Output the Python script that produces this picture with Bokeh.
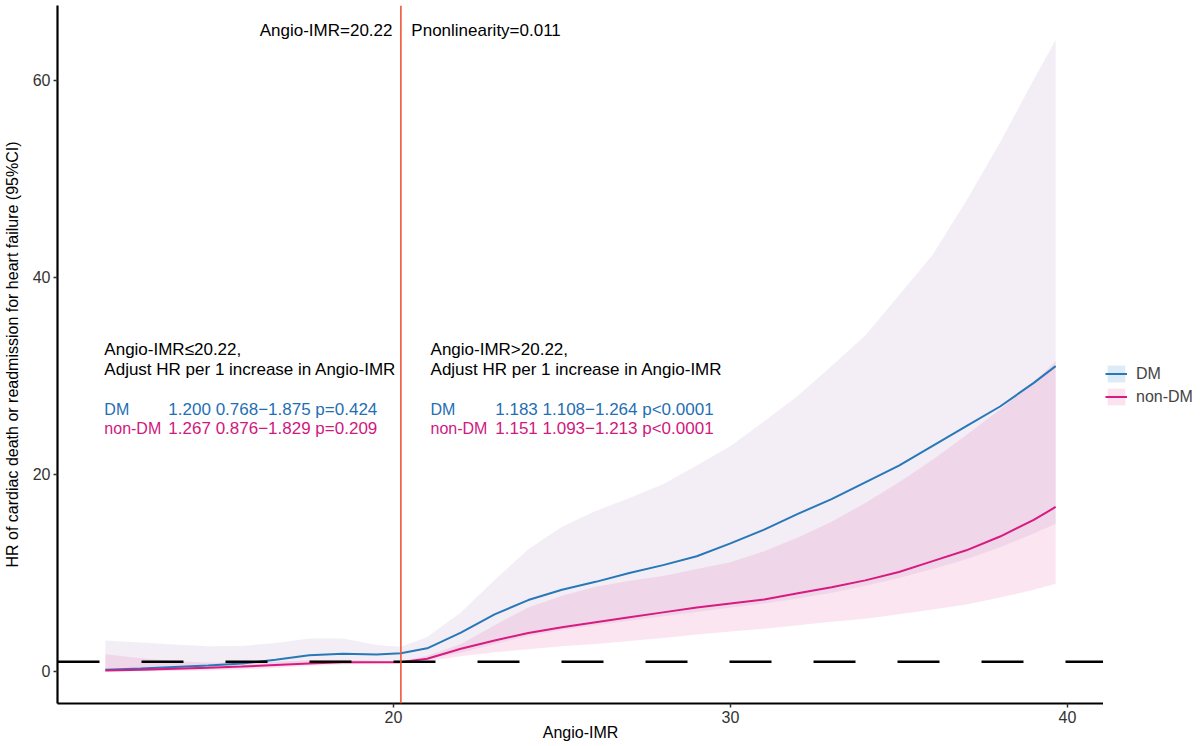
from bokeh.plotting import figure
from bokeh.layouts import row
from bokeh.models import (ColumnDataSource, Span, Label, Legend, LegendItem,
                          Range1d, FixedTicker)
from bokeh.embed import file_html
from bokeh.resources import INLINE

# ---------------- data ----------------
angio_imr = [11.45, 12.5, 13.5, 14.5, 15.5, 16.5, 17.5, 18.5, 19.5, 20.22, 21, 22, 23, 24, 25,
             26, 27, 28, 29, 30, 31, 32, 33, 34, 35, 36, 37, 38, 39, 39.65]
dm_hr = [0.17, 0.3, 0.45, 0.6, 0.8, 1.2, 1.65, 1.8, 1.72, 1.85, 2.35, 3.95, 5.8, 7.25, 8.3,
         9.1, 10.0, 10.8, 11.7, 13.0, 14.4, 16.0, 17.5, 19.2, 20.9, 22.9, 24.9, 26.9, 29.3, 31.0]
dm_lower = [0.0, 0.05, 0.12, 0.22, 0.35, 0.55, 0.8, 0.95, 1.0, 1.1, 1.25, 1.9, 2.8, 3.6, 4.2,
            4.7, 5.15, 5.6, 6.05, 6.5, 6.9, 7.4, 8.0, 8.7, 9.5, 10.4, 11.4, 12.6, 14.0, 15.0]
dm_upper = [3.15, 2.95, 2.75, 2.55, 2.6, 2.9, 3.35, 3.35, 2.7, 2.5, 3.5, 6.0, 9.3, 12.4, 14.7,
            16.3, 17.6, 19.0, 20.9, 22.9, 25.4, 28.0, 31.0, 34.1, 38.2, 42.3, 47.8, 53.7, 60.1, 64.1]
nondm_hr = [0.1, 0.18, 0.27, 0.38, 0.5, 0.66, 0.82, 0.95, 0.95, 0.95, 1.3, 2.3, 3.15, 3.9, 4.5,
            5.0, 5.5, 6.0, 6.5, 6.9, 7.3, 7.95, 8.55, 9.25, 10.1, 11.2, 12.3, 13.7, 15.4, 16.7]
nondm_lower = [0.0, 0.02, 0.05, 0.1, 0.2, 0.35, 0.55, 0.7, 0.8, 0.85, 1.05, 1.55, 1.95, 2.25, 2.55,
               2.8, 3.1, 3.4, 3.75, 4.05, 4.35, 4.7, 5.05, 5.35, 5.8, 6.3, 6.8, 7.5, 8.3, 8.9]
nondm_upper = [1.75, 1.35, 1.05, 0.9, 0.9, 1.0, 1.15, 1.2, 1.1, 1.05, 1.6, 2.8, 4.7, 6.5, 7.7,
               8.6, 9.2, 9.7, 10.4, 11.1, 12.2, 13.6, 15.2, 17.1, 19.2, 21.5, 24.0, 26.6, 29.4, 31.5]

cutoff = 20.22
reference_hr = 1
x_ticks = [20, 30, 40]
y_ticks = [0, 20, 40, 60]
series_labels = ["DM", "non-DM"]
header_left = "Angio-IMR=20.22"
header_right = "Pnonlinearity=0.011"
block_left = ["Angio-IMR\u226420.22,", "Adjust HR per 1 increase in Angio-IMR"]
block_right = ["Angio-IMR>20.22,", "Adjust HR per 1 increase in Angio-IMR"]
stats_left = ["1.200 0.768\u22121.875 p=0.424", "1.267 0.876\u22121.829 p=0.209"]
stats_right = ["1.183 1.108\u22121.264 p<0.0001", "1.151 1.093\u22121.213 p<0.0001"]

# ---------------- style ----------------
FONT = "Liberation Sans"
DM_LINE = "#2878B8"
NON_LINE = "#D81B80"
DM_TEXT = "#1F6FB4"
NON_TEXT = "#D0187E"
FIG_H = 738

dm_src = ColumnDataSource(dict(x=angio_imr, y=dm_hr, lo=dm_lower, hi=dm_upper))
non_src = ColumnDataSource(dict(x=angio_imr, y=nondm_hr, lo=nondm_lower, hi=nondm_upper))

p = figure(frame_width=1046, frame_height=698, output_backend="svg", toolbar_location=None,
           x_range=Range1d(10.03, 41.07), y_range=Range1d(-3.25, 67.61),
           min_border_left=49, min_border_right=0, min_border_top=5, min_border_bottom=35)
p.outline_line_color = None
p.grid.visible = False
p.background_fill_color = "white"

# confidence bands
p.varea(x="x", y1="lo", y2="hi", source=dm_src, fill_color="#AF8EC3", fill_alpha=0.15)
p.varea(x="x", y1="lo", y2="hi", source=non_src, fill_color="#E452A2", fill_alpha=0.15)

# fitted HR lines
p.line("x", "y", source=dm_src, line_color=DM_LINE, line_width=2)
p.line("x", "y", source=non_src, line_color=NON_LINE, line_width=2)

# reference lines
p.add_layout(Span(location=reference_hr, dimension="width", line_color="black",
                  line_width=2.5, line_dash="42 42"))
p.add_layout(Span(location=cutoff, dimension="height", line_color="#F0553A", line_width=1.6))

# axes
for ax in (p.xaxis[0], p.yaxis[0]):
    ax.axis_line_width = 2.2
    ax.axis_line_color = "black"
    ax.major_tick_line_width = 1.5
    ax.major_tick_line_color = "#333333"
    ax.major_tick_out = 4
    ax.major_tick_in = 0
    ax.minor_tick_line_color = None
    ax.major_label_text_font = FONT
    ax.major_label_text_font_size = "16px"
    ax.major_label_text_color = "#333333"
    ax.axis_label_text_font = FONT
    ax.axis_label_text_font_size = "16px"
    ax.axis_label_text_font_style = "normal"
    ax.axis_label_text_color = "black"
p.xaxis.ticker = FixedTicker(ticks=x_ticks)
p.yaxis.ticker = FixedTicker(ticks=y_ticks)
p.xaxis.axis_label = "Angio-IMR"
p.yaxis.axis_label = "HR of cardiac death or readmission for heart failure (95%CI)"
p.xaxis.major_label_standoff = 3
p.xaxis.axis_label_standoff = -2
p.yaxis.major_label_standoff = 3
p.yaxis.axis_label_standoff = 9

# annotations
def lab(x, y, text, color="black", align="left", size="17px"):
    p.add_layout(Label(x=x, y=y, text=text, text_font=FONT, text_font_size=size,
                       text_color=color, text_align=align, text_baseline="middle"))

lab(cutoff - 0.25, 65.1, header_left, align="right")
lab(cutoff + 0.31, 65.1, header_right)

row_y = [32.7, 30.66, 26.6, 24.67]
lab(11.42, row_y[0], block_left[0])
lab(11.42, row_y[1], block_left[1])
lab(11.42, row_y[2], series_labels[0], DM_TEXT, size="16px")
lab(11.42, row_y[3], series_labels[1], NON_TEXT, size="16px")
lab(13.32, row_y[2], stats_left[0], DM_TEXT)
lab(13.32, row_y[3], stats_left[1], NON_TEXT)

lab(21.10, row_y[0], block_right[0])
lab(21.10, row_y[1], block_right[1])
lab(21.10, row_y[2], series_labels[0], DM_TEXT, size="16px")
lab(21.10, row_y[3], series_labels[1], NON_TEXT, size="16px")
lab(23.02, row_y[2], stats_right[0], DM_TEXT)
lab(23.02, row_y[3], stats_right[1], NON_TEXT)

# ---------------- legend panel ----------------
# the key renderers reuse the series data; the panel's ranges lie outside the data,
# so only the legend keys are visible there
lg = figure(width=89, height=FIG_H, output_backend="svg", toolbar_location=None,
            x_axis_type=None, y_axis_type=None,
            x_range=Range1d(1000, 1001), y_range=Range1d(1000, 1001), min_border=0)
lg.outline_line_color = None
lg.grid.visible = False

dm_key = lg.varea(x="x", y1="lo", y2="hi", source=dm_src, fill_color="#DCEBF6")
non_key = lg.varea(x="x", y1="lo", y2="hi", source=non_src, fill_color="#FBE2EF")
dm_key_line = lg.line("x", "y", source=dm_src, line_color=DM_LINE, line_width=2)
non_key_line = lg.line("x", "y", source=non_src, line_color=NON_LINE, line_width=2)

legend = Legend(items=[LegendItem(label=series_labels[0], renderers=[dm_key, dm_key_line]),
                       LegendItem(label=series_labels[1], renderers=[non_key, non_key_line])],
                location=(2, 291), orientation="vertical",
                label_text_font=FONT, label_text_font_size="16px",
                glyph_width=22, glyph_height=21, spacing=2, label_standoff=9,
                padding=0, margin=0, border_line_color=None, background_fill_alpha=0)
lg.add_layout(legend)

layout = row(p, lg)
open("out.html", "w").write(file_html(layout, INLINE))
